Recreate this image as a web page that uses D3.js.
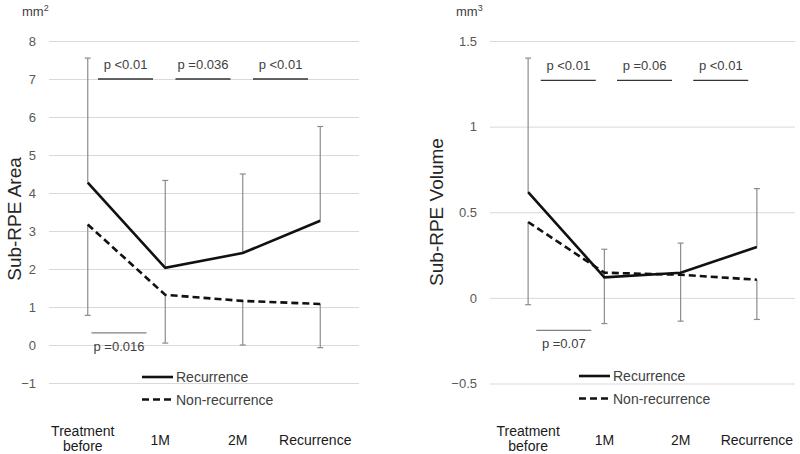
<!DOCTYPE html>
<html><head><meta charset="utf-8">
<script src="https://cdn.jsdelivr.net/npm/d3@7"></script>
<style>body{margin:0;background:#fff}svg{display:block;font-family:"Liberation Sans",Arial,sans-serif}</style>
</head><body><svg id="c" width="800" height="454"></svg>
<script>
const categories = ["Treatment before", "1M", "2M", "Recurrence"];
const seriesNames = ["Recurrence", "Non-recurrence"];

const areaRecMean = [4.27, 2.03, 2.42, 3.27];
const areaRecUpper = [7.55, 4.33, 4.50, 5.75];
const areaNonMean = [3.17, 1.32, 1.16, 1.08];
const areaNonLower = [0.78, 0.05, 0.00, -0.07];
const areaTicks = [-1, 0, 1, 2, 3, 4, 5, 6, 7, 8];
const areaPTop = ["p <0.01", "p =0.036", "p <0.01"];
const areaPBottom = "p =0.016";

const volRecMean = [0.617, 0.12, 0.147, 0.297];
const volRecUpper = [1.40, 0.284, 0.32, 0.638];
const volNonMean = [0.443, 0.147, 0.135, 0.106];
const volNonLower = [-0.04, -0.15, -0.136, -0.126];
const volTicks = [-0.5, 0, 0.5, 1, 1.5];
const volPTop = ["p <0.01", "p =0.06", "p <0.01"];
const volPBottom = "p =0.07";

const svg = d3.select("#c");

function panel(o) {
  const g = svg.append("g");
  const x = d3.scaleBand().domain(categories).range([o.x0, o.x1]);
  const cx = c => x(c) + x.bandwidth() / 2;
  const y = d3.scaleLinear().domain([o.ticks[0], o.ticks[o.ticks.length - 1]]).range([o.yb, o.yt]);

  // gridlines + tick labels
  const ax = d3.axisLeft(y).tickValues(o.ticks).tickSize(o.x0 - o.x1).tickPadding(0).tickFormat(d3.format(""));
  const ga = g.append("g").attr("transform", `translate(${o.x0},0)`).call(ax);
  ga.select(".domain").remove();
  ga.selectAll(".tick line").attr("stroke", "#d9d9d9").attr("stroke-width", 1);
  ga.selectAll(".tick text").attr("x", o.tickX - o.x0).attr("fill", "#595959")
    .style("font-size", "13px").style("font-family", '"Liberation Sans",Arial,sans-serif');

  // unit
  const u = g.append("text").attr("x", o.unitX).attr("y", 16).attr("fill", "#404040").style("font-size", "13px").text("mm");
  u.append("tspan").attr("dy", -5).style("font-size", "9px").text(o.unitSup);

  // y title
  g.append("text").attr("transform", `translate(${o.titleX},${o.titleY}) rotate(-90)`)
    .attr("text-anchor", "middle").attr("fill", "#262626").style("font-size", "19px").text(o.title);

  // error bars
  const eb = (mean, ext) => {
    categories.forEach((c, i) => {
      g.append("line").attr("x1", cx(c)).attr("x2", cx(c)).attr("y1", y(mean[i])).attr("y2", y(ext[i]))
        .attr("stroke", "#8c8c8c").attr("stroke-width", 1.2);
      g.append("line").attr("x1", cx(c) - 3).attr("x2", cx(c) + 3).attr("y1", y(ext[i])).attr("y2", y(ext[i]))
        .attr("stroke", "#8c8c8c").attr("stroke-width", 1.2);
    });
  };
  eb(o.recMean, o.recUpper);
  eb(o.nonMean, o.nonLower);

  const line = d3.line().x((d, i) => cx(categories[i])).y(d => y(d));
  g.append("path").datum(o.nonMean).attr("d", line).attr("fill", "none").attr("stroke", "#111")
    .attr("stroke-width", 2.6).attr("stroke-dasharray", "7,4");
  g.append("path").datum(o.recMean).attr("d", line).attr("fill", "none").attr("stroke", "#111").attr("stroke-width", 2.6);

  // p annotations
  o.pTop.forEach((t, i) => {
    const m = (cx(categories[i]) + cx(categories[i + 1])) / 2 + o.pdx;
    g.append("line").attr("x1", m - 27.5).attr("x2", m + 27.5).attr("y1", y(o.pTopY)).attr("y2", y(o.pTopY))
      .attr("stroke", "#333").attr("stroke-width", 1.3);
    g.append("text").attr("x", m).attr("y", y(o.pTopY) - 10).attr("text-anchor", "middle")
      .attr("fill", "#404040").style("font-size", "13px").text(t);
  });
  const mb = (cx(categories[0]) + cx(categories[1])) / 2 + o.pbdx;
  g.append("line").attr("x1", mb - 27.5).attr("x2", mb + 27.5).attr("y1", y(o.pBotY)).attr("y2", y(o.pBotY))
    .attr("stroke", "#808080").attr("stroke-width", 1.3);
  g.append("text").attr("x", mb).attr("y", y(o.pBotY) + 18).attr("text-anchor", "middle")
    .attr("fill", "#404040").style("font-size", "13px").text(o.pBottom);

  // legend
  seriesNames.forEach((s, i) => {
    const ly = o.legY + i * 22.5;
    g.append("line").attr("x1", o.legX).attr("x2", o.legX + 31).attr("y1", ly).attr("y2", ly)
      .attr("stroke", "#111").attr("stroke-width", 2.6).attr("stroke-dasharray", i ? "7,4" : null);
    g.append("text").attr("x", o.legX + 34).attr("y", ly + 5).attr("fill", "#404040").style("font-size", "14px").text(s);
  });

  // category labels
  categories.forEach(c => {
    const t = g.append("text").attr("text-anchor", "middle").attr("fill", "#1a1a1a").style("font-size", "14px");
    const xx = cx(c) + o.labDx;
    if (c === "Treatment before") {
      t.append("tspan").attr("x", xx).attr("y", 436).text("Treatment");
      t.append("tspan").attr("x", xx).attr("y", 451).text("before");
    } else {
      t.attr("x", xx).attr("y", 445).text(c);
    }
  });
}

panel({
  x0: 49, x1: 359, yt: 41, yb: 383, ticks: areaTicks, tickX: 36, unitX: 22, unitSup: "2",
  title: "Sub-RPE Area", titleX: 21, titleY: 219,
  recMean: areaRecMean, recUpper: areaRecUpper, nonMean: areaNonMean, nonLower: areaNonLower,
  pTop: areaPTop, pTopY: 7.0, pdx: -1, pBottom: areaPBottom, pBotY: 0.32, pbdx: -7.5,
  legX: 142, legY: 377, labDx: -5
});
panel({
  x0: 490, x1: 795, yt: 41, yb: 383.5, ticks: volTicks, tickX: 477, unitX: 456, unitSup: "3",
  title: "Sub-RPE Volume", titleX: 443, titleY: 212,
  recMean: volRecMean, recUpper: volRecUpper, nonMean: volNonMean, nonLower: volNonLower,
  pTop: volPTop, pTopY: 1.27, pdx: 2, pBottom: volPBottom, pBotY: -0.19, pbdx: -2.5,
  legX: 579, legY: 376, labDx: 0
});
</script></body></html>
